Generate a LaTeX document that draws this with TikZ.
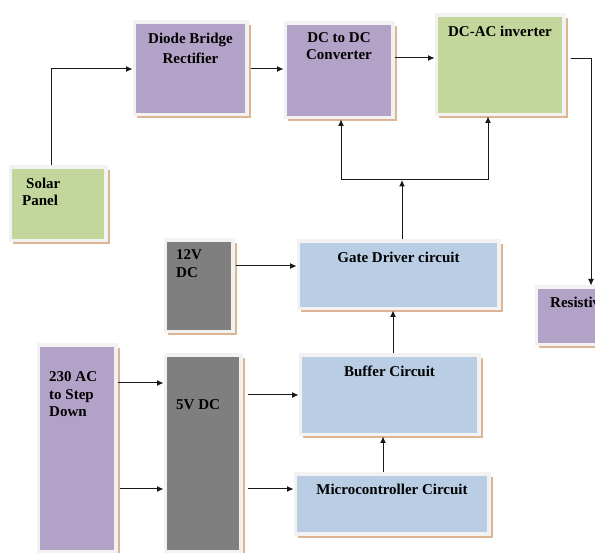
\documentclass[tikz,border=0pt]{standalone}
\usepackage{fontspec}
\setmainfont{Liberation Serif}
\usetikzlibrary{arrows.meta}
\definecolor{purp}{HTML}{B3A2C7}
\definecolor{grn}{HTML}{C3D69B}
\definecolor{blu}{HTML}{B9CDE5}
\definecolor{gry}{HTML}{7F7F7F}
\definecolor{bordc}{HTML}{F2F2F2}
\definecolor{shadc}{HTML}{DDB593}
\tikzset{
  blkbox/.style={draw=bordc, line width=3.5pt, inner sep=0pt, anchor=north west},
  lbl/.style={font=\bfseries\fontsize{15}{17}\selectfont, inner sep=0pt, text=black},
  arr/.style={draw=black!90, line width=1pt, -{Latex[length=6.5pt,width=6pt]}},
  ln/.style={draw=black!90, line width=1pt}
}
% #1 name, #2 x1, #3 y1, #4 x2, #5 y2 (inner fill area, px), #6 colour
\newcommand\blk[6]{%
  \fill[shadc] ({#2+1},{#3+1}) rectangle ({#4+5.5},{#5+5.5});
  \node[blkbox, fill=#6, minimum width={#4-#2+3.5}, minimum height={#5-#3+3.5}] (#1) at ({#2-3.5},{#3-3.5}) {};
}
\begin{document}
\begin{tikzpicture}[x=1pt,y=-1pt]
\useasboundingbox (0,0) rectangle (595,553);
\clip (0,0) rectangle (595,553);
\fill[white] (0,0) rectangle (595,553);
% blocks
\blk{sp}{12}{169}{104}{239}{grn}
\blk{db}{136}{24}{245}{113}{purp}
\blk{dd}{287}{25}{391}{116}{purp}
\blk{inv}{438}{17}{562}{113}{grn}
\blk{gd}{300}{243}{497}{307}{blu}
\blk{res}{538}{289}{640}{343}{purp}
\blk{vt}{167}{242}{231}{330}{gry}
\blk{ac}{40}{347}{114}{550}{purp}
\blk{vf}{167}{357}{239}{550}{gry}
\blk{buf}{302}{357}{477}{433}{blu}
\blk{mc}{297}{476}{487}{532}{blu}
% labels
\node[lbl, anchor=base] (t1) at (190.5,44) {Diode Bridge};
\node[lbl, anchor=base] (t2) at (190.5,64) {Rectifier};
\node[lbl, anchor=base] (t3) at (339,43) {DC to DC};
\node[lbl, anchor=base] (t4) at (339,60) {Converter};
\node[lbl, anchor=base] (t5) at (500,37) {DC-AC inverter};
\node[lbl, anchor=base west] (t6) at (26,189) {Solar};
\node[lbl, anchor=base west] (t7) at (22,206) {Panel};
\node[lbl, anchor=base] (t8) at (398.5,263) {Gate Driver circuit};
\node[lbl, anchor=base west] (t9) at (550,308) {Resistive};
\node[lbl, anchor=base west] (t10) at (176,260) {12V};
\node[lbl, anchor=base west] (t11) at (176,278) {DC};
\node[lbl, anchor=base west] (t12) at (49,382) {230 AC};
\node[lbl, anchor=base west] (t13) at (49,400) {to Step};
\node[lbl, anchor=base west] (t14) at (49,417) {Down};
\node[lbl, anchor=base west] (t15) at (176,410) {5V DC};
\node[lbl, anchor=base] (t16) at (389.5,377) {Buffer Circuit};
\node[lbl, anchor=base] (t17) at (392,495) {Microcontroller Circuit};
% connectors
\coordinate (jc) at (402,180);
\coordinate (jl) at (341,180);
\coordinate (jr) at (488,180);
\draw[arr] (sp.north -| 51,0) |- (db.west |- 0,69);
\draw[arr, shorten <=2pt] (db.east |- 0,69) -- (dd.west |- 0,69);
\draw[arr] (dd.east |- 0,58) -- (inv.west |- 0,58);
\draw[arr, shorten <=5pt] (inv.east |- 0,59) -| (res.north -| 591,0);
\draw[arr] (gd.north -| jc) -- (jc);
\draw[ln] (jl) -- (jr);
\draw[arr] (jl) -- (dd.south -| jl);
\draw[arr] (jr) -- (inv.south -| jr);
\draw[arr, shorten <=1.5pt] (vt.east |- 0,266) -- (gd.west |- 0,266);
\draw[arr] (buf.north -| 393,0) -- (gd.south -| 393,0);
\draw[arr] (mc.north -| 383,0) -- (buf.south -| 383,0);
\draw[arr] (ac.east |- 0,383) -- (vf.west |- 0,383);
\draw[arr, shorten <=2.5pt] (ac.east |- 0,489) -- (vf.west |- 0,489);
\draw[arr, shorten <=5pt] (vf.east |- 0,395) -- (buf.west |- 0,395);
\draw[arr, shorten <=5pt] (vf.east |- 0,489) -- (mc.west |- 0,489);
\end{tikzpicture}
\end{document}
